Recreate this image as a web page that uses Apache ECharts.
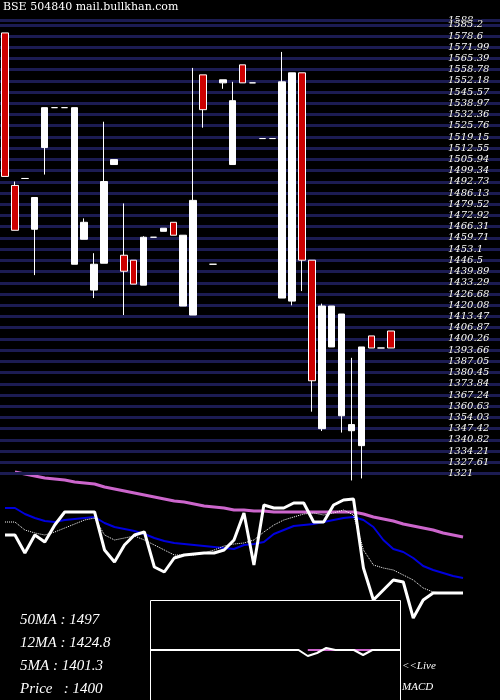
<!DOCTYPE html>
<html><head><meta charset="utf-8">
<script src="https://cdn.jsdelivr.net/npm/echarts@6/dist/echarts.min.js"></script>
<style>html,body{margin:0;background:#000}#c{width:500px;height:700px}</style>
</head><body><div id="c"></div>
<script>
// [open, close, low, high]
const candles = [
[1580.4,1495.9,1495.9,1580.4],[1490.6,1464.2,1464.2,1492.9],[1494.7,1494.7,1494.7,1494.7],
[1464.8,1483.5,1437.8,1483.5],[1512.9,1536.4,1497.0,1536.4],[1536.4,1536.4,1536.4,1536.4],
[1536.4,1536.4,1536.4,1536.4],[1444.2,1536.4,1444.2,1536.4],[1458.9,1468.9,1458.9,1471.2],
[1429.0,1444.2,1424.3,1450.7],[1444.8,1492.9,1444.8,1528.1],[1502.9,1505.8,1502.9,1505.8],
[1449.5,1440.1,1414.3,1480.0],[1446.6,1432.5,1432.5,1446.6],[1431.9,1460.1,1431.9,1460.7],
[1460.1,1460.1,1460.1,1460.1],[1463.6,1465.4,1463.6,1465.4],[1468.9,1461.3,1461.3,1468.9],
[1419.6,1461.3,1419.6,1461.3],[1414.3,1481.8,1414.3,1559.8],[1555.7,1535.2,1524.6,1555.7],
[1444.2,1444.2,1444.2,1444.2],[1551.0,1552.8,1547.5,1552.8],[1502.9,1540.5,1502.9,1551.6],
[1561.6,1551.0,1551.0,1561.6],[1551.0,1551.0,1551.0,1551.0],[1518.2,1518.2,1518.2,1518.2],
[1518.2,1518.2,1518.2,1518.2],[1424.3,1551.6,1424.3,1569.2],[1422.5,1556.9,1420.0,1556.9],
[1556.9,1446.6,1428.4,1556.9],[1446.6,1375.6,1357.4,1446.6],[1347.4,1419.6,1346.0,1421.0],
[1395.5,1419.6,1395.5,1419.6],[1355.0,1414.9,1345.1,1414.9],[1346.2,1349.8,1316.9,1389.1],
[1337.4,1395.5,1318.1,1395.5],[1402.0,1394.9,1394.9,1402.0],[1394.9,1394.9,1394.9,1394.9],
[1404.9,1394.9,1394.9,1404.9]
];
const levels = [1588,1585.2,1578.6,1571.99,1565.39,1558.78,1552.18,1545.57,1538.97,1532.36,1525.76,1519.15,1512.55,1505.94,1499.34,1492.73,1486.13,1479.52,1472.92,1466.31,1459.71,1453.1,1446.5,1439.89,1433.29,1426.68,1420.08,1413.47,1406.87,1400.26,1393.66,1387.05,1380.45,1373.84,1367.24,1360.63,1354.03,1347.42,1340.82,1334.21,1327.61,1321];
// indicator panel levels (inverted scale)
const ma50 = ['-',472,474,476,478,479,480,482,483,484,487,489,491,493,495,497,499,501,502,504,506,507,508,510,510,511,511,512,512,512,512,512,512,512,512,512,514,517,519,521,524,526,528,530,533,535,537];
const ma12 = [508,508,514,518,521,522,520,519,518,517,523,527,529,531,534,538,541,543,544,545,546,547,548,549,545,544,542,534,530,526,525,524,522,520,518,517,520,527,540,549,552,558,566,570,573,576,578];
const ma5 = [535,535,553,535,542,525,512,512,512,512,550,562,545,535,532,567,572,558,555,554,553,553,550,540,513,565,505,508,508,503,503,522,522,505,500,499,568,600,590,580,582,618,600,593,593,593,593];
const ma5dot = [522,522,530,533,535,532,528,524,520,518,535,540,538,536,540,545,550,555,555,555,553,550,546,544,543,540,532,525,520,517,514,513,515,513,510,515,550,565,568,570,575,580,588,592,593,593,593];
const macd = [0,0,0,0,0,0,0,0,0,0,0,0,0,0,0,0,0,-6,-3,2,0,0,0,-5,0,0,0,0];
const macdSig = ['-','-','-','-','-','-','-','-','-','-','-','-','-','-','-','-','-',0,0,0,0,0,0,0,0,0,'-',0];
const cats = candles.map((_, i) => i);
const cats2 = ma5.map((_, i) => i);
const cats3 = macd.map((_, i) => i);

const chart = echarts.init(document.getElementById('c'));
const serif = 'DejaVu Serif';
chart.setOption({
  backgroundColor: '#000',
  animation: false,
  grid: [
    {left: -2, top: 20, width: 398, height: 462},
    {left: 0, top: 20, width: 500, height: 462},
    {left: -2, top: 460, width: 470, height: 165},
    {left: 151, top: 601, width: 249, height: 98},
    {left: 0, top: 20, width: 446, height: 462}
  ],
  xAxis: [
    {type: 'category', data: cats, gridIndex: 0, show: false},
    {type: 'value', gridIndex: 1, min: 0, max: 1, show: false},
    {type: 'category', data: cats2, gridIndex: 2, show: false},
    {type: 'category', data: cats3, gridIndex: 3, show: false, boundaryGap: false},
    {type: 'value', gridIndex: 4, min: 0, max: 1, show: false}
  ],
  yAxis: [
    {type: 'value', gridIndex: 0, min: 1316, max: 1588, show: false},
    {type: 'value', gridIndex: 1, min: 1316, max: 1588, show: false},
    {type: 'value', gridIndex: 2, min: 460, max: 625, inverse: true, show: false},
    {type: 'value', gridIndex: 3, min: -49, max: 49, show: false},
    {type: 'value', gridIndex: 4, min: 1316, max: 1588, show: false}
  ],
  graphic: [
    {type: 'rect', shape: {x: 150.5, y: 600.5, width: 250, height: 110}, style: {fill: 'none', stroke: '#fff', lineWidth: 1}, z: 10},
    {type: 'text', left: 3, top: 2, style: {text: 'BSE 504840 mail.bullkhan.com', fill: '#fff', font: '11px "DejaVu Serif"'}},
    {type: 'text', left: 20, top: 613, style: {text: '50MA : 1497', fill: '#fff', font: 'italic 15px "Liberation Serif"'}},
    {type: 'text', left: 20, top: 636, style: {text: '12MA : 1424.8', fill: '#fff', font: 'italic 15px "Liberation Serif"'}},
    {type: 'text', left: 20, top: 659, style: {text: '5MA : 1401.3', fill: '#fff', font: 'italic 15px "Liberation Serif"'}},
    {type: 'text', left: 20, top: 682, style: {text: 'Price   : 1400', fill: '#fff', font: 'italic 15px "Liberation Serif"'}},
    {type: 'text', left: 402, top: 661, style: {text: '<<Live', fill: '#fff', font: 'italic 11px "Liberation Serif"'}},
    {type: 'text', left: 402, top: 682, style: {text: 'MACD', fill: '#fff', font: 'italic 11px "Liberation Serif"'}}
  ],
  series: [
    {
      type: 'line', xAxisIndex: 1, yAxisIndex: 1, data: [], silent: true, z: 1,
      markLine: {
        symbol: 'none', silent: true, animation: false,
        lineStyle: {color: '#1c1c52', width: 3, type: 'solid'},
        label: {show: false},
        data: levels.map(v => ({yAxis: v}))
      }
    },
    {
      type: 'line', xAxisIndex: 4, yAxisIndex: 4, data: [], silent: true, z: 2,
      markLine: {
        symbol: 'none', silent: true, animation: false,
        lineStyle: {color: 'rgba(0,0,0,0)', width: 1, type: 'solid'},
        label: {show: true, position: 'end', distance: 2, color: '#fff', fontFamily: serif, fontStyle: 'italic', fontSize: 10,
          formatter: p => String(p.value), textBorderColor: '#000', textBorderWidth: 1},
        data: levels.map(v => ({yAxis: v}))
      }
    },
    {
      type: 'candlestick', xAxisIndex: 0, yAxisIndex: 0, data: candles, barWidth: 7, z: 5,
      itemStyle: {color: '#fff', borderColor: '#fff', color0: '#cc0000', borderColor0: '#fff', borderColorDoji: '#fff', borderWidth: 1}
    },
    {type: 'line', xAxisIndex: 2, yAxisIndex: 2, data: ma50, symbol: 'none', lineStyle: {color: '#cc66cc', width: 3}},
    {type: 'line', xAxisIndex: 2, yAxisIndex: 2, data: ma12, symbol: 'none', lineStyle: {color: '#0000dd', width: 2}},
    {type: 'line', xAxisIndex: 2, yAxisIndex: 2, data: ma5dot, symbol: 'none', lineStyle: {color: '#fff', width: 1, type: 'dotted'}},
    {type: 'line', xAxisIndex: 2, yAxisIndex: 2, data: ma5, symbol: 'none', lineStyle: {color: '#fff', width: 3}},
    {type: 'line', xAxisIndex: 3, yAxisIndex: 3, data: macdSig, symbol: 'none', lineStyle: {color: '#cc66cc', width: 2}},
    {type: 'line', xAxisIndex: 3, yAxisIndex: 3, data: macd, symbol: 'none', lineStyle: {color: '#fff', width: 2}}
  ]
});
</script></body></html>
